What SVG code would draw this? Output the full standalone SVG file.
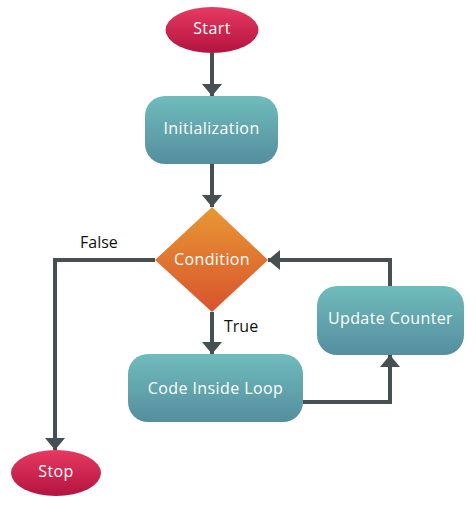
<svg xmlns="http://www.w3.org/2000/svg" width="476" height="507" viewBox="0 0 476 507">
<style>
.lbl{font-family:"Open Sans","Liberation Sans",sans-serif;font-size:16px;letter-spacing:0.4px;fill:#ffffff;text-anchor:middle;dominant-baseline:central}
.edge{font-family:"Open Sans","Liberation Sans",sans-serif;font-size:16px;fill:#111111}
.ln{fill:none;stroke:#465052;stroke-width:4}
</style>
<defs>
<linearGradient id="gRed" x1="0" y1="0" x2="0" y2="1"><stop offset="0" stop-color="#e63a62"/><stop offset="1" stop-color="#b3133f"/></linearGradient>
<linearGradient id="gTeal" x1="0" y1="0" x2="0" y2="1"><stop offset="0" stop-color="#70bcbb"/><stop offset="1" stop-color="#548e9f"/></linearGradient>
<linearGradient id="gOr" x1="0" y1="0" x2="0" y2="1"><stop offset="0" stop-color="#e89834"/><stop offset="1" stop-color="#d9532e"/></linearGradient>
<marker id="ah" viewBox="0 0 12 20" refX="12" refY="10" markerWidth="12" markerHeight="20" markerUnits="userSpaceOnUse" orient="auto"><path d="M0,0 L12,10 L0,20 z" fill="#465052"/></marker>
</defs>
<g id="connectors">
<path class="ln" d="M212,53 V96" marker-end="url(#ah)"/>
<path class="ln" d="M212,164 V207" marker-end="url(#ah)"/>
<path class="ln" d="M155,260 H55 V450" marker-end="url(#ah)"/>
<path class="ln" d="M212,312 V354" marker-end="url(#ah)"/>
<path class="ln" d="M303,402 H390 V355" marker-end="url(#ah)"/>
<path class="ln" d="M390,286 V260 H268" marker-end="url(#ah)"/>
<text class="edge" x="80" y="248">False</text>
<text class="edge" x="224" y="332">True</text>
</g>
<g id="start"><ellipse cx="212" cy="30" rx="46.5" ry="23" fill="url(#gRed)"/><text class="lbl" x="212" y="28">Start</text></g>
<g id="init"><rect x="145" y="96" width="133" height="68" rx="20" fill="url(#gTeal)"/><text class="lbl" x="211.5" y="128">Initialization</text></g>
<g id="condition"><path d="M212,207 L268,260 L212,312 L155,260 Z" fill="url(#gOr)"/><text class="lbl" x="212" y="259">Condition</text></g>
<g id="code"><rect x="128" y="354" width="175" height="68" rx="20" fill="url(#gTeal)"/><text class="lbl" x="215.5" y="388">Code Inside Loop</text></g>
<g id="update"><rect x="317" y="286" width="147" height="69" rx="20" fill="url(#gTeal)"/><text class="lbl" x="390.5" y="318">Update Counter</text></g>
<g id="stop"><ellipse cx="56" cy="473" rx="45" ry="23" fill="url(#gRed)"/><text class="lbl" x="56" y="471">Stop</text></g>
</svg>
